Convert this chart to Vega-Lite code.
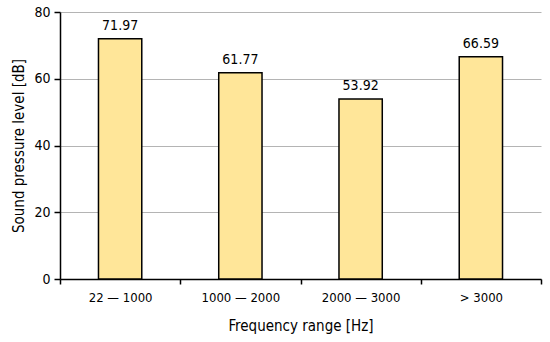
{
  "$schema": "https://vega.github.io/schema/vega-lite/v6.json",
  "autosize": "none",
  "width": 481,
  "height": 267,
  "padding": {"left": 60, "top": 12, "right": 9, "bottom": 63},
  "background": "white",
  "config": {
    "font": "DejaVu Sans Condensed, Roboto, sans-serif",
    "view": {"stroke": null}
  },
  "data": {
    "values": [
      {"range": "22 — 1000", "spl": 71.97},
      {"range": "1000 — 2000", "spl": 61.77},
      {"range": "2000 — 3000", "spl": 53.92},
      {"range": "> 3000", "spl": 66.59}
    ]
  },
  "encoding": {
    "x": {
      "field": "range",
      "type": "nominal",
      "sort": null,
      "scale": {"paddingInner": 0, "paddingOuter": 0},
      "axis": {
        "title": "Frequency range [Hz]",
        "titleFont": "DejaVu Sans Condensed, Roboto, sans-serif",
        "titleFontSize": 15,
        "titleFontWeight": "normal",
        "titleColor": "black",
        "titleY": 46,
        "titleBaseline": "middle",
        "labelAngle": 0,
        "labelFont": "DejaVu Sans Condensed, Roboto, sans-serif",
        "labelFontSize": 13,
        "labelColor": "black",
        "labelPadding": 7,
        "tickBand": "extent",
        "tickSize": 5,
        "tickColor": "black",
        "tickWidth": 1.5,
        "domainColor": "black",
        "domainWidth": 1.5,
        "grid": false
      }
    },
    "y": {
      "field": "spl",
      "type": "quantitative",
      "scale": {"domain": [0, 80]},
      "axis": {
        "title": "Sound pressure level [dB]",
        "titleFont": "DejaVu Sans Condensed, Roboto, sans-serif",
        "titleFontSize": 15,
        "titleFontWeight": "normal",
        "titleColor": "black",
        "titleX": -42,
        "titleY": 133.5,
        "titleBaseline": "middle",
        "values": [0, 20, 40, 60, 80],
        "labelFont": "DejaVu Sans Condensed, Roboto, sans-serif",
        "labelFontSize": 14,
        "labelColor": "black",
        "labelPadding": 4,
        "tickSize": 6,
        "tickColor": "black",
        "tickWidth": 1.5,
        "domainColor": "black",
        "domainWidth": 1.5,
        "grid": true,
        "gridColor": "#b4b4b4",
        "gridWidth": 1
      }
    }
  },
  "layer": [
    {
      "mark": {
        "type": "bar",
        "width": {"band": 0.36},
        "fill": "#FFE699",
        "stroke": "black",
        "strokeWidth": 1.5
      }
    },
    {
      "mark": {
        "type": "text",
        "baseline": "alphabetic",
        "dy": -9,
        "font": "DejaVu Sans Condensed, Roboto, sans-serif",
        "fontSize": 14,
        "color": "black"
      },
      "encoding": {
        "text": {"field": "spl", "type": "quantitative", "format": ".2f"}
      }
    }
  ]
}
